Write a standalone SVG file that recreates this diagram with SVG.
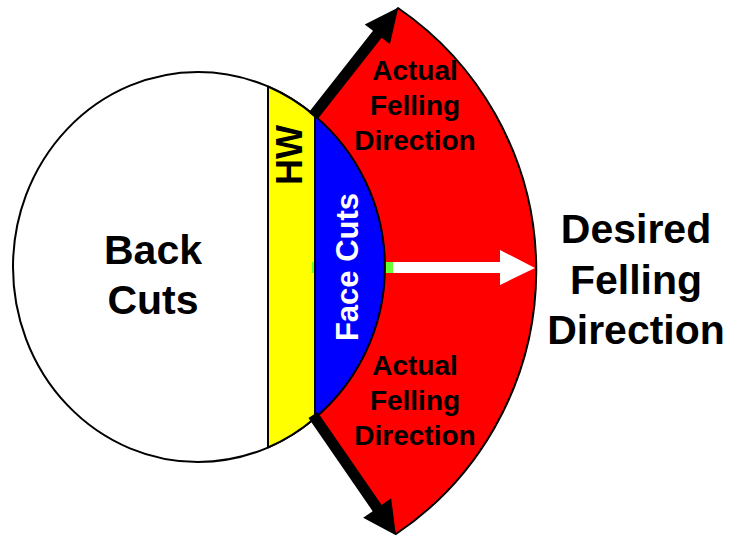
<svg xmlns="http://www.w3.org/2000/svg" width="730" height="538" viewBox="0 0 730 538">
<style>
.t{font-family:"Liberation Sans",Arial,sans-serif;font-weight:bold;text-anchor:middle;fill:#000}
.ol{stroke:#000;stroke-width:2;stroke-linejoin:round}
</style>
<rect width="730" height="538" fill="#fff"/>
<g id="back-cuts">
<ellipse cx="198" cy="267" rx="185" ry="195" fill="#fff" class="ol"/>
<text class="t" x="153" y="264" font-size="41">Back</text>
<text class="t" x="153" y="314" font-size="41">Cuts</text>
</g>
<g id="hinge-wood">
<path d="M268,86.5 A185,195 0 0 1 315,116 L315,418 A185,195 0 0 1 268,447.5 Z" fill="#ffff00" class="ol"/>
<text class="t" transform="translate(302,155) rotate(-90)" font-size="36">HW</text>
</g>
<g id="felling-zone">
<path d="M315,116 L398,8 A318,318 0 0 1 396,534 L315,418 Z" fill="#ff0000" class="ol"/>
</g>
<g id="connectors">
<rect x="312" y="262" width="81" height="11" fill="#66ff33"/>
</g>
<g id="face-cuts">
<path d="M315,116 A198,198 0 0 1 315,418 Z" fill="#0000ff" class="ol"/>
<text class="t" transform="translate(358,267) rotate(-90)" font-size="31" style="fill:#fff">Face Cuts</text>
</g>
<g id="arrows">
<polygon points="393,262 500,262 500,250 535,268 500,285 500,273 393,273" fill="#fff"/>
<g transform="translate(313,116) rotate(-51.8)">
<polygon points="0,-5.5 104,-5.5 104,-16 138,0 104,16 104,5.5 0,5.5" fill="#000"/>
</g>
<g transform="translate(313,415) rotate(55.4)">
<polygon points="0,-5.5 113,-5.5 113,-17 146,0 113,17 113,5.5 0,5.5" fill="#000"/>
</g>
</g>
<g id="actual-top">
<text class="t" x="415" y="80" font-size="28">Actual</text>
<text class="t" x="415" y="115" font-size="28">Felling</text>
<text class="t" x="415" y="150" font-size="28">Direction</text>
</g>
<g id="actual-bottom">
<text class="t" x="415" y="375" font-size="28">Actual</text>
<text class="t" x="415" y="410" font-size="28">Felling</text>
<text class="t" x="415" y="445" font-size="28">Direction</text>
</g>
<g id="desired">
<text class="t" x="636" y="243" font-size="41">Desired</text>
<text class="t" x="636" y="294" font-size="41">Felling</text>
<text class="t" x="636" y="344" font-size="41">Direction</text>
</g>
</svg>
